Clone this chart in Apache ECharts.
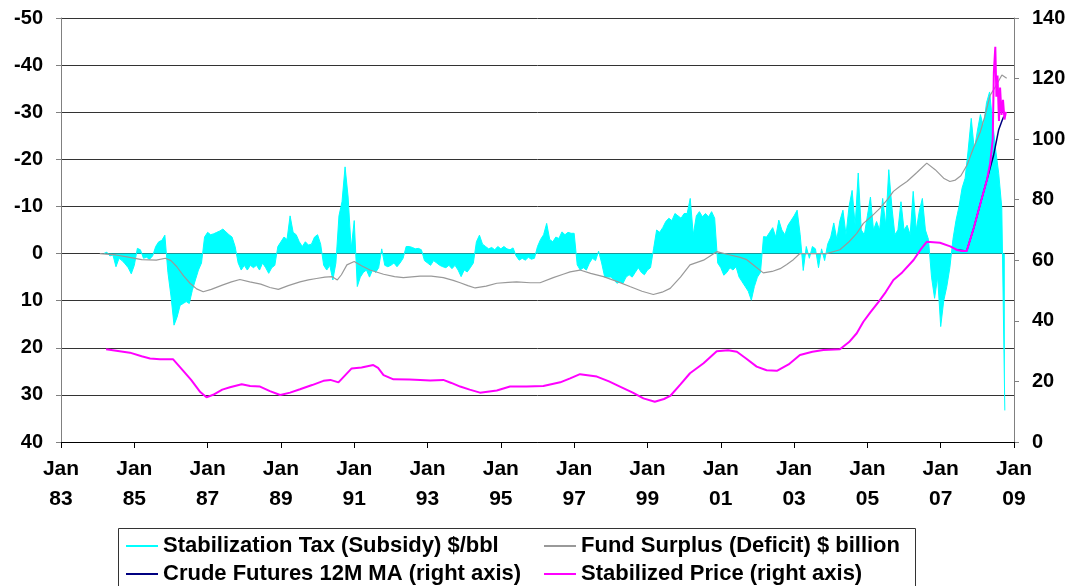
<!DOCTYPE html>
<html>
<head>
<meta charset="utf-8">
<script src="https://cdn.jsdelivr.net/npm/echarts@6/dist/echarts.min.js"></script>
<style>
  html, body { margin: 0; padding: 0; background: #fff; }
  #chart { width: 1075px; height: 586px; }
</style>
</head>
<body>
<div id="chart"></div>
<script>
// x ticks (decimal years, labelled "Jan YY")
const xTicks = [1983, 1985, 1987, 1989, 1991, 1993, 1995, 1997, 1999, 2001, 2003, 2005, 2007, 2009];

// Stabilization tax (subsidy) $/bbl, monthly from Mar 1984 (negative = tax, drawn upward)
const taxStart = 1984 + 2 / 12;
const taxValues = [
  0, -0.3, 0.5, 0.3, 2.8, 1.0, 1.5, 2.2, 3.0, 4.3,                  // 1984 Mar-Dec
  2.5, -1.1, -0.8, 1.0, 0.8, 1.2, 0.5, -1.5, -2.5, -2.8, -3.9, 4.0, // 1985
  9.0, 15.2, 13.5, 11.0, 10.6, 10.2, 10.6, 7.8, 5.6, 3.5, 2.0, -3.5,  // 1986
  -4.5, -4.0, -4.2, -4.5, -4.8, -5.2, -4.6, -4.0, -3.5, -1.5, 2.0, 3.5, // 1987
  2.5, 3.5, 2.5, 3.0, 2.5, 3.5, 2.0, 3.0, 4.2, 3.0, 2.5, -1.5,      // 1988
  -2.5, -3.5, -3.0, -8.0, -4.5, -4.0, -2.5, -1.5, -2.5, -1.8, -2.0, -3.5, // 1989
  -4.0, -2.0, 2.5, 3.5, 2.5, 5.6, 2.0, -8.0, -11.0, -18.4, -12.0, -1.0, // 1990
  -7.0, 7.0, 5.0, 4.0, 3.5, 5.0, 3.5, 4.0, 3.0, -1.0, 2.5, 2.8,     // 1991
  2.5, 2.0, 2.8, 2.0, 1.0, -1.5, -1.5, -1.3, -1.0, -1.1, -0.8, 1.5, // 1992
  2.0, 2.5, 1.5, 2.0, 2.5, 2.8, 3.0, 2.5, 3.2, 2.5, 3.5, 4.9,       // 1993
  3.5, 3.9, 3.0, 2.0, -2.5, -3.9, -2.0, -1.5, -1.0, -1.3, -0.8, -1.5, // 1994
  -1.0, -1.5, -1.0, -0.8, -1.2, 0.5, 1.4, 1.0, 1.4, 0.8, 1.2, 1.0,  // 1995
  -1.5, -3.0, -4.0, -6.4, -3.0, -2.5, -3.5, -3.2, -4.6, -4.0, -4.5, -4.3, // 1996
  -4.3, 2.4, 3.5, 3.0, 3.5, 2.0, 1.0, 1.5, -0.5, 2.0, 5.0, 5.0,     // 1997
  5.0, 5.5, 6.3, 6.0, 6.3, 5.0, 4.5, 5.0, 4.0, 3.0, 4.0, 4.5,       // 1998
  3.5, 3.0, -1.0, -5.0, -4.5, -5.5, -6.8, -7.5, -7.0, -8.5, -8.0, -7.5, // 1999
  -8.5, -8.5, -11.7, -4.0, -8.0, -8.9, -7.8, -8.5, -7.8, -8.9, -7.5, 2.0, // 2000
  3.0, 4.6, 4.0, 3.0, 3.5, 2.8, 5.0, 6.0, 7.0, 8.0, 9.9, 7.0,       // 2001
  5.0, 4.0, -3.6, -3.5, -4.5, -5.5, -3.5, -7.1, -5.0, -4.0, -6.0, -7.0, // 2002
  -8.0, -9.2, -4.0, 3.6, -1.5, 1.0, -1.5, -1.0, 3.0, -1.0, 1.5, -2.0, // 2003
  -3.5, -6.5, -3.0, -7.0, -9.2, -4.0, -10.0, -13.4, -6.0, -17.1, -5.0, -4.0, // 2004
  -8.0, -12.0, -5.0, -6.8, -5.0, -11.7, -6.0, -17.8, -10.0, -4.0, -5.0, -11.0, // 2005
  -5.0, -6.0, -4.0, -13.2, -5.0, -9.0, -11.7, -5.0, -3.0, 5.0, 9.5, 5.0, // 2006
  15.5, 10.0, 7.0, 3.0, -3.0, -7.0, -10.0, -13.9, -16.0, -22.0, -28.7, -22.0, // 2007
  -26.0, -29.5, -27.0, -32.0, -34.3, -28.0, -22.0, -17.0, -9.7, 33.3  // 2008 Jan-Oct
];

// Fund surplus (deficit) $ billion, left axis
const fundT = [1984.06, 1984.5, 1984.8, 1985.2, 1985.6, 1985.85, 1986.0, 1986.16, 1986.35, 1986.52, 1986.7, 1986.88,
  1987.1, 1987.4, 1987.65, 1987.88, 1988.15, 1988.45, 1988.7, 1988.93, 1989.2, 1989.52, 1989.75, 1989.97,
  1990.2, 1990.4, 1990.54, 1990.65, 1990.8, 1991.0, 1991.2, 1991.43, 1991.8, 1992.1, 1992.34, 1992.8,
  1993.1, 1993.43, 1993.7, 1993.89, 1994.1, 1994.3, 1994.6, 1994.89, 1995.2, 1995.43, 1995.8, 1996.07,
  1996.43, 1996.7, 1996.89, 1997.16, 1997.45, 1997.8, 1998.2, 1998.52, 1998.85, 1999.16, 1999.4, 1999.62,
  1999.9, 2000.16, 2000.53, 2000.89, 2001.2, 2001.53, 2001.71, 2001.95, 2002.16, 2002.4, 2002.62, 2002.8,
  2002.98, 2003.16, 2003.5, 2003.89, 2004.25, 2004.5, 2004.71, 2004.89, 2005.1, 2005.34, 2005.55, 2005.71,
  2005.89, 2006.08, 2006.35, 2006.62, 2006.85, 2007.08, 2007.25, 2007.4, 2007.55, 2007.72, 2007.9, 2008.08,
  2008.2, 2008.35, 2008.5, 2008.67, 2008.8];
const fundV = [0, 0.3, 0.7, 1.3, 1.4, 1.0, 1.5, 2.8, 4.8, 6.3, 7.5, 8.1,
  7.6, 6.7, 6.0, 5.5, 6.0, 6.5, 7.2, 7.6, 6.8, 6.0, 5.6, 5.3,
  5.0, 4.9, 5.6, 4.5, 2.4, 1.7, 2.6, 3.5, 4.4, 4.9, 5.1, 4.8,
  4.8, 5.1, 5.7, 6.2, 6.8, 7.3, 6.9, 6.3, 6.1, 6.0, 6.2, 6.2,
  5.1, 4.4, 3.9, 3.5, 4.2, 4.9, 6.0, 7.0, 8.0, 8.7, 8.2, 7.4,
  5.0, 2.4, 1.4, -0.4, 0.2, 0.8, 1.3, 2.8, 4.1, 3.8, 3.2, 2.3,
  1.3, 0, 0, 0, -0.8, -2.5, -4.3, -6.4, -7.8, -9.6, -11.5, -13.2,
  -14.3, -15.3, -17.2, -19.2, -17.8, -16.0, -15.3, -15.6, -16.5, -18.8, -22.5, -25.8,
  -29.0, -33.6, -35.5, -37.9, -37.2];

// Crude futures 12M moving average, right axis
const crudeT = [2007.45, 2007.71, 2007.9, 2008.1, 2008.26, 2008.35, 2008.44, 2008.58, 2008.67, 2008.72];
const crudeV = [63.4, 63.1, 70.6, 79.5, 86.5, 90.5, 94.5, 103.0, 106.0, 107.5];

// Stabilized price, right axis
const priceT = [1984.23, 1984.6, 1984.88, 1985.2, 1985.43, 1985.7, 1986.06, 1986.3, 1986.55, 1986.8, 1986.97,
  1987.15, 1987.4, 1987.61, 1987.93, 1988.16, 1988.43, 1988.7, 1988.98, 1989.25, 1989.52, 1989.85,
  1990.16, 1990.35, 1990.57, 1990.75, 1990.93, 1991.2, 1991.52, 1991.65, 1991.8, 1992.07, 1992.5, 1992.8,
  1993.07, 1993.43, 1993.65, 1993.89, 1994.15, 1994.43, 1994.89, 1995.25, 1995.7, 1996.16, 1996.62, 1996.89,
  1997.16, 1997.62, 1997.95, 1998.25, 1998.6, 1998.89, 1999.2, 1999.45, 1999.62, 1999.9, 2000.16, 2000.53,
  2000.89, 2001.2, 2001.44, 2001.7, 2001.98, 2002.25, 2002.53, 2002.85, 2003.16, 2003.5, 2003.8, 2004.25,
  2004.5, 2004.71, 2004.89, 2005.08, 2005.3, 2005.5, 2005.71, 2005.95, 2006.26, 2006.45, 2006.62, 2006.98,
  2007.26, 2007.45, 2007.58, 2007.71, 2007.9, 2008.1, 2008.26, 2008.35, 2008.42, 2008.45, 2008.49, 2008.52,
  2008.55, 2008.59, 2008.62, 2008.66, 2008.7, 2008.74, 2008.78];
const priceV = [30.6, 30.0, 29.5, 28.3, 27.6, 27.3, 27.3, 24.0, 20.5, 16.5, 14.75,
  15.6, 17.3, 18.1, 19.05, 18.5, 18.3, 16.8, 15.5, 16.3, 17.4, 18.8,
  20.2, 20.5, 19.7, 22.0, 24.3, 24.6, 25.4, 24.5, 22.1, 20.7, 20.6, 20.5,
  20.3, 20.5, 19.5, 18.3, 17.3, 16.3, 17.0, 18.3, 18.3, 18.5, 19.7, 21.0,
  22.4, 21.6, 20.0, 18.3, 16.3, 14.4, 13.3, 14.2, 15.2, 19.0, 22.7, 26.0,
  30.0, 30.3, 29.8, 27.5, 24.9, 23.7, 23.5, 25.6, 28.7, 29.8, 30.4, 30.6,
  33.0, 35.9, 39.7, 42.8, 46.2, 49.5, 53.5, 56.0, 60.1, 63.5, 66.1, 65.8,
  64.6, 63.4, 63.1, 63.1, 70.6, 79.5, 86.5, 92.0, 100.0, 122.0, 130.5, 114.0,
  121.0, 106.0, 117.0, 108.0, 113.0, 106.5, 109.0];

const pairs = (t, v) => t.map((x, i) => [x, v[i]]);
const taxData = taxValues.map((v, i) => [taxStart + i / 12, v]);

const labelFont = {
  color: '#000',
  fontWeight: 'bold',
  fontFamily: 'Liberation Sans, Arial, sans-serif'
};

const chart = echarts.init(document.getElementById('chart'));

function legendItem(name, left, top) {
  return {
    data: [name],
    left: left,
    top: top,
    padding: 0,
    icon: 'rect',
    itemWidth: 32,
    itemHeight: 2,
    selectedMode: false,
    textStyle: Object.assign({ fontSize: 22 }, labelFont)
  };
}

const option = {
  animation: false,
  backgroundColor: '#fff',
  grid: { left: 61, right: 61, top: 18, bottom: 144 },
  legend: [
    legendItem('Stabilization Tax (Subsidy) $/bbl', 126, 535),
    legendItem('Fund Surplus (Deficit) $ billion', 544, 535),
    legendItem('Crude Futures 12M MA (right axis)', 126, 563),
    legendItem('Stabilized Price (right axis)', 544, 563)
  ],
  graphic: [{
    type: 'rect',
    shape: { x: 118.5, y: 528.5, width: 797, height: 80 },
    style: { fill: 'none', stroke: '#333', lineWidth: 1 },
    silent: true
  }],
  xAxis: {
    type: 'value',
    min: xTicks[0],
    max: xTicks[xTicks.length - 1],
    interval: 2,
    axisLine: { onZero: false, lineStyle: { color: '#000', width: 1 } },
    axisTick: { length: 6, lineStyle: { color: '#000' } },
    splitLine: { show: false },
    axisLabel: Object.assign({
      fontSize: 21,
      lineHeight: 30,
      margin: 12,
      formatter: v => 'Jan\n' + String(v).slice(2)
    }, labelFont)
  },
  yAxis: [{
    type: 'value',
    inverse: true,
    min: -50,
    max: 40,
    interval: 10,
    axisLine: { show: true, lineStyle: { color: '#808080' } },
    axisTick: { show: true, length: 5, lineStyle: { color: '#808080' } },
    splitLine: { show: true, lineStyle: { color: '#333', width: 1 } },
    axisLabel: Object.assign({ fontSize: 20, margin: 18 }, labelFont)
  }, {
    type: 'value',
    min: 0,
    max: 140,
    interval: 20,
    position: 'right',
    axisLine: { show: true, lineStyle: { color: '#808080' } },
    axisTick: { show: true, length: 5, lineStyle: { color: '#808080' } },
    splitLine: { show: false },
    axisLabel: Object.assign({ fontSize: 20, margin: 18 }, labelFont)
  }],
  series: [{
    name: 'Stabilization Tax (Subsidy) $/bbl',
    type: 'line',
    yAxisIndex: 0,
    data: taxData,
    showSymbol: false,
    color: '#00FFFF',
    lineStyle: { color: '#00FFFF', width: 1 },
    areaStyle: { color: '#00FFFF', opacity: 1, origin: 0 },
    z: 1
  }, {
    name: 'Fund Surplus (Deficit) $ billion',
    type: 'line',
    yAxisIndex: 0,
    data: pairs(fundT, fundV),
    showSymbol: false,
    color: '#999999',
    lineStyle: { color: '#999999', width: 1.2 },
    z: 2
  }, {
    name: 'Crude Futures 12M MA (right axis)',
    type: 'line',
    yAxisIndex: 1,
    data: pairs(crudeT, crudeV),
    showSymbol: false,
    color: '#000080',
    lineStyle: { color: '#000080', width: 1.5 },
    z: 3
  }, {
    name: 'Stabilized Price (right axis)',
    type: 'line',
    yAxisIndex: 1,
    data: pairs(priceT, priceV),
    showSymbol: false,
    color: '#FF00FF',
    lineStyle: { color: '#FF00FF', width: 2 },
    z: 4
  }]
};

chart.setOption(option);
</script>
</body>
</html>
